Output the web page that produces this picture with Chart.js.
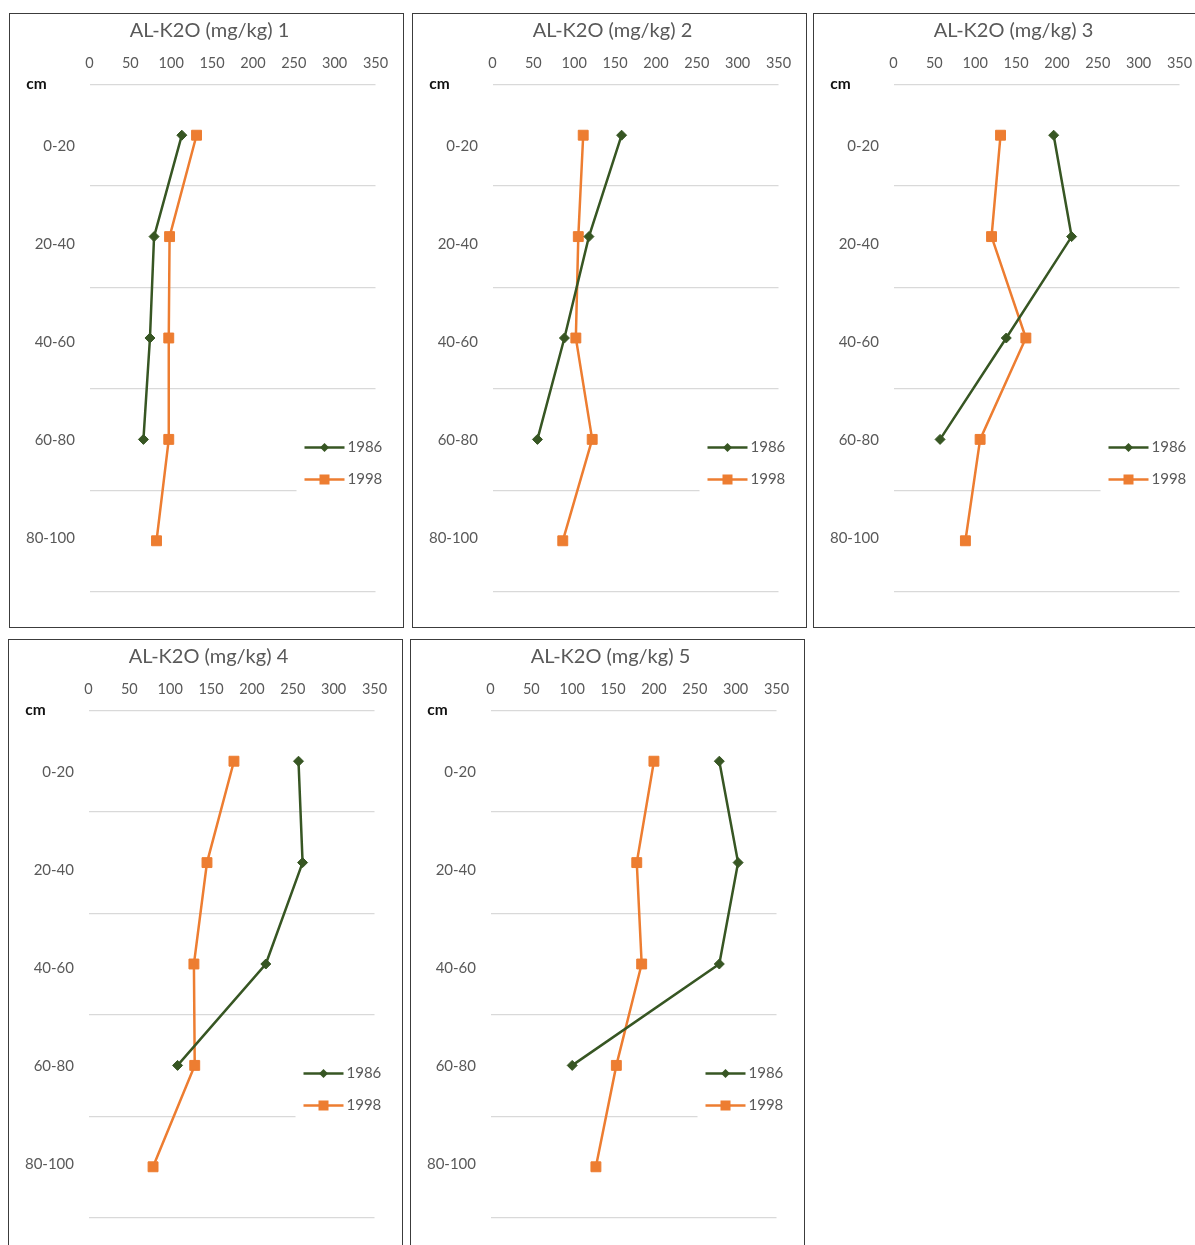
<!DOCTYPE html>
<html>
<head>
<meta charset="utf-8">
<script src="https://cdn.jsdelivr.net/npm/chart.js@4"></script>
<style>
  html, body { margin: 0; padding: 0; background: #fff; }
  #page { position: relative; width: 1195px; height: 1245px; overflow: hidden; background: #fff; }
  .panel { position: absolute; width: 395px; height: 615px; box-sizing: border-box;
           border: 1.5px solid #3c3c3c; background: #fff; }
  .panel canvas { display: block; }
</style>
</head>
<body>
<div id="page">
  <div class="panel" style="left:9px;top:13px"><canvas id="c1"></canvas></div>
  <div class="panel" style="left:412px;top:13px"><canvas id="c2"></canvas></div>
  <div class="panel" style="left:813px;top:13px"><canvas id="c3"></canvas></div>
  <div class="panel" style="left:8px;top:639px"><canvas id="c4"></canvas></div>
  <div class="panel" style="left:410px;top:639px"><canvas id="c5"></canvas></div>
</div>
<script>
// Soil depth layers (cm) and the middle of each layer on the depth scale
const depthLabels = ['0-20', '20-40', '40-60', '60-80', '80-100'];
const depthMid = [10, 30, 50, 70, 90];
const depthBounds = [0, 20, 40, 60, 80, 100];
const valueTicks = [0, 50, 100, 150, 200, 250, 300, 350];
const seriesNames = ['1986', '1998'];
const panelTitles = ['AL-K2O (mg/kg) 1', 'AL-K2O (mg/kg) 2', 'AL-K2O (mg/kg) 3',
                     'AL-K2O (mg/kg) 4', 'AL-K2O (mg/kg) 5'];

// AL-extractable K2O (mg/kg) per layer; 1986 has no 80-100 sample
const k1986_1 = [113, 79, 74, 66, null];
const k1998_1 = [131, 98, 97, 97, 82];
const k1986_2 = [158, 118, 88, 55, null];
const k1998_2 = [111, 105, 102, 122, 86];
const k1986_3 = [196, 218, 138, 57, null];
const k1998_3 = [131, 120, 162, 106, 88];
const k1986_4 = [257, 262, 217, 109, null];
const k1998_4 = [178, 145, 129, 130, 79];
const k1986_5 = [280, 303, 280, 100, null];
const k1998_5 = [200, 179, 185, 154, 129];

const panelData = [
  [k1986_1, k1998_1], [k1986_2, k1998_2], [k1986_3, k1998_3],
  [k1986_4, k1998_4], [k1986_5, k1998_5]
];

const GREEN = '#375623';
const ORANGE = '#ED7D31';
const TEXT = '#595959';
const FONT = 'Lato, "Open Sans", sans-serif';

function toPoints(values) {
  const pts = [];
  values.forEach((v, i) => { if (v !== null) pts.push({ x: v, y: depthMid[i] }); });
  return pts;
}

// "cm" caption above the depth labels
const cmLabel = {
  id: 'cmLabel',
  afterDraw(chart) {
    const { ctx, chartArea } = chart;
    ctx.save();
    ctx.font = 'bold 15.5px ' + FONT;
    ctx.fillStyle = '#111';
    ctx.textAlign = 'center';
    ctx.textBaseline = 'middle';
    ctx.fillText('cm', chartArea.left - 53, chartArea.top - 1);
    ctx.restore();
  }
};

// Legend drawn on a white box inside the plot, to the right of the lower layers
const innerLegend = {
  id: 'innerLegend',
  beforeDatasetsDraw(chart) {
    const { ctx, chartArea } = chart;
    const x0 = chartArea.left + 207;
    ctx.save();
    ctx.fillStyle = '#fff';
    ctx.fillRect(x0, chartArea.top + 347, chart.width - x0, 63);
    chart.data.datasets.forEach((ds, i) => {
      const y = chartArea.top + 363 + i * 32;
      const lx1 = chartArea.left + 215, lx2 = chartArea.left + 255;
      ctx.strokeStyle = ds.borderColor;
      ctx.lineWidth = 2.5;
      ctx.beginPath();
      ctx.moveTo(lx1, y);
      ctx.lineTo(lx2, y);
      ctx.stroke();
      ctx.fillStyle = ds.borderColor;
      const cx = (lx1 + lx2) / 2;
      if (ds.pointStyle === 'rect') {
        ctx.fillRect(cx - 5, y - 5, 10, 10);
      } else {
        ctx.beginPath();
        ctx.moveTo(cx, y - 4.5); ctx.lineTo(cx + 4.5, y);
        ctx.lineTo(cx, y + 4.5); ctx.lineTo(cx - 4.5, y);
        ctx.closePath(); ctx.fill();
      }
      ctx.fillStyle = TEXT;
      ctx.font = '15px ' + FONT;
      ctx.textAlign = 'left';
      ctx.textBaseline = 'middle';
      ctx.fillText(ds.label, lx2 + 3, y);
    });
    ctx.restore();
  }
};

function makeChart(id, title, series) {
  const ctx = document.getElementById(id);
  return new Chart(ctx, {
    type: 'scatter',
    data: {
      datasets: [
        {
          label: seriesNames[0],
          data: toPoints(series[0]),
          showLine: true,
          borderColor: GREEN,
          backgroundColor: GREEN,
          borderWidth: 2.5,
          pointStyle: 'rectRot',
          pointRadius: 5,
          pointBorderWidth: 1,
          pointHoverRadius: 5
        },
        {
          label: seriesNames[1],
          data: toPoints(series[1]),
          showLine: true,
          borderColor: ORANGE,
          backgroundColor: ORANGE,
          borderWidth: 2.5,
          pointStyle: 'rect',
          pointRadius: 7,
          pointBorderWidth: 1,
          pointHoverRadius: 7
        }
      ]
    },
    options: {
      responsive: false,
      animation: false,
      devicePixelRatio: 1,
      layout: { padding: { left: 7, right: 0, top: 0, bottom: 34.5 } },
      plugins: {
        legend: { display: false },
        tooltip: { enabled: false },
        title: {
          display: true,
          text: title,
          color: TEXT,
          font: { family: FONT, size: 20, weight: 'normal', lineHeight: 1.2 },
          padding: { top: 5, bottom: 0 }
        }
      },
      scales: {
        x: {
          type: 'linear',
          position: 'top',
          min: 0, max: 350,
          afterBuildTicks(scale) { scale.ticks = valueTicks.map(v => ({ value: v })); },
          afterFit(scale) { scale.height = 41.5; },
          grid: { display: false, drawTicks: false },
          border: { display: false },
          ticks: { color: TEXT, padding: 12.3, maxRotation: 0, autoSkip: false,
                   font: { family: FONT, size: 14.5, lineHeight: 1.2 } }
        },
        y: {
          type: 'linear',
          position: 'left',
          reverse: true,
          min: 0, max: 100,
          afterBuildTicks(scale) { scale.ticks = depthBounds.map(v => ({ value: v })); },
          afterFit(scale) { scale.width = 0; },
          grid: { color: '#d9d9d9', lineWidth: 1.2, drawTicks: false },
          border: { display: false },
          ticks: { display: false }
        },
        yLabels: {
          type: 'linear',
          position: 'left',
          reverse: true,
          min: -2.71, max: 100.99,
          afterBuildTicks(scale) { scale.ticks = depthMid.map(v => ({ value: v })); },
          afterFit(scale) { scale.width = 72.5; },
          grid: { display: false, drawTicks: false },
          border: { display: false },
          ticks: {
            color: TEXT, padding: 14.5, autoSkip: false,
            font: { family: FONT, size: 15, lineHeight: 1.2 },
            callback(value) { const i = depthMid.indexOf(value); return i >= 0 ? depthLabels[i] : ''; }
          }
        },
        yRight: {
          type: 'linear',
          position: 'right',
          min: 0, max: 100,
          afterFit(scale) { scale.width = 26.5; },
          grid: { display: false, drawTicks: false },
          border: { display: false },
          ticks: { display: false }
        }
      }
    },
    plugins: [cmLabel, innerLegend]
  });
}

document.querySelectorAll('.panel canvas').forEach(c => { c.width = 392; c.height = 612; });
['c1', 'c2', 'c3', 'c4', 'c5'].forEach((id, i) => makeChart(id, panelTitles[i], panelData[i]));
</script>
</body>
</html>
